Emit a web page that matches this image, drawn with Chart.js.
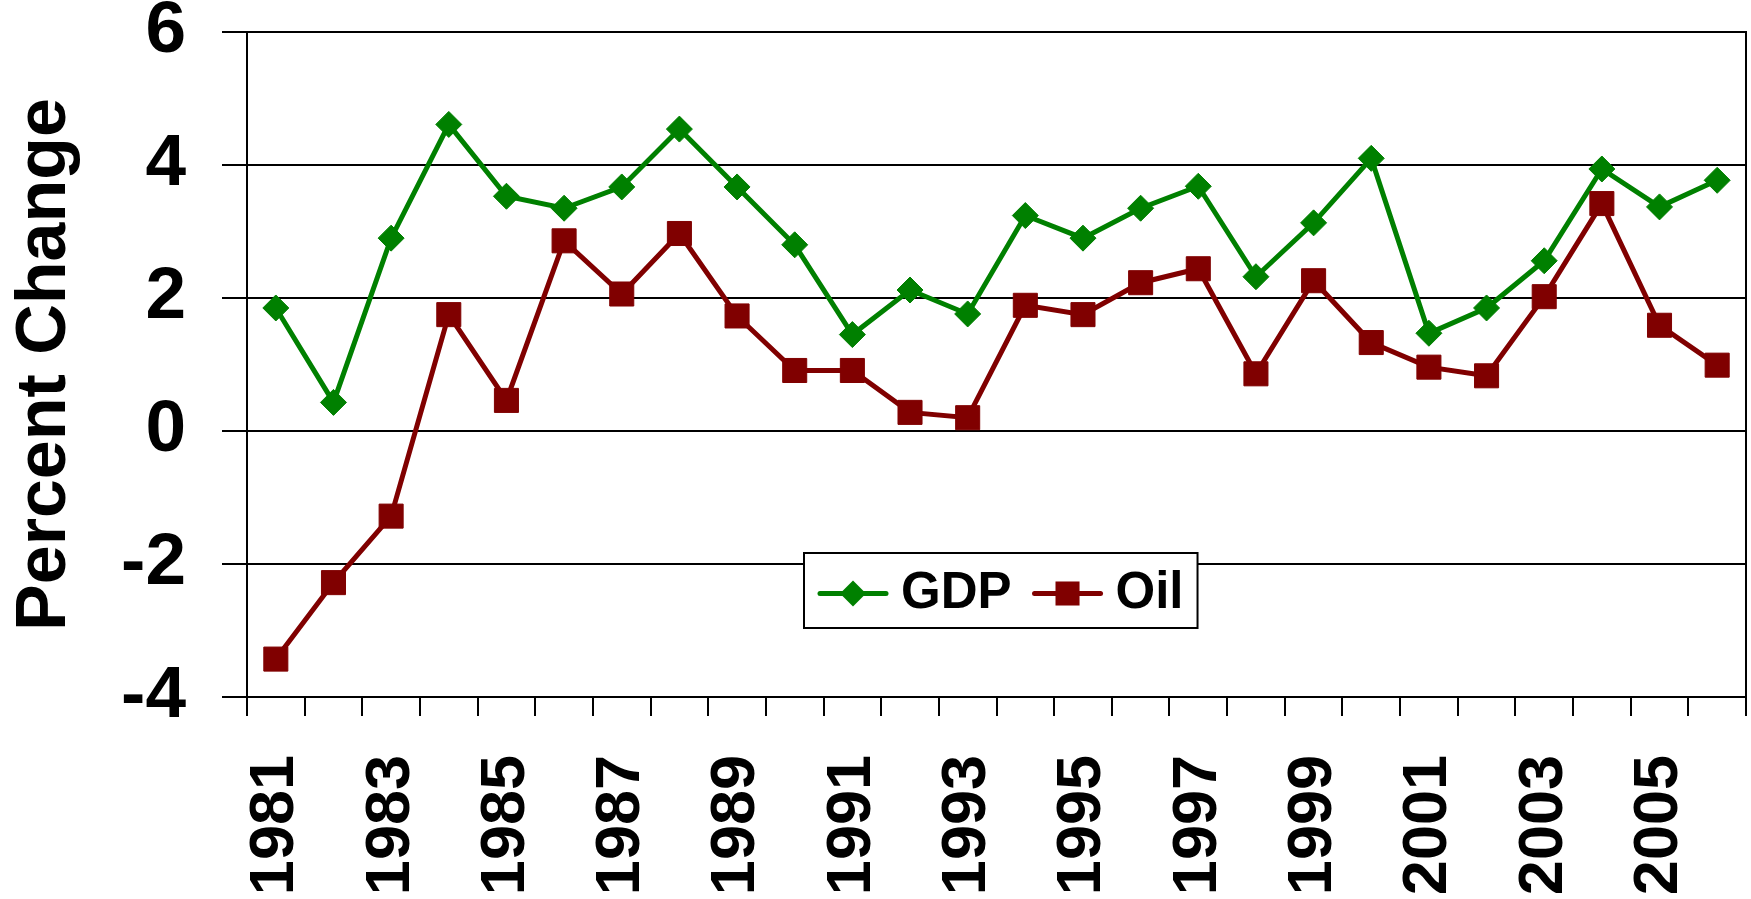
<!DOCTYPE html>
<html>
<head>
<meta charset="utf-8">
<title>GDP and Oil - Percent Change</title>
<script src="https://cdn.jsdelivr.net/npm/chart.js@4.4.1/dist/chart.umd.min.js"></script>
<style>
  html, body { margin: 0; padding: 0; background: #ffffff; }
  #wrap { width: 1751px; height: 899px; position: relative; }
</style>
</head>
<body>
<div id="wrap"><canvas id="chart"></canvas></div>
<script>
// Data
const years = ['1981', '1982', '1983', '1984', '1985', '1986', '1987', '1988', '1989', '1990',
               '1991', '1992', '1993', '1994', '1995', '1996', '1997', '1998', '1999', '2000',
               '2001', '2002', '2003', '2004', '2005', '2006'];
const gdpValues = [1.85, 0.43, 2.90, 4.61, 3.53, 3.35, 3.67, 4.54, 3.67, 2.80,
                   1.45, 2.12, 1.76, 3.24, 2.90, 3.35, 3.68, 2.32, 3.13, 4.10,
                   1.47, 1.85, 2.56, 3.94, 3.37, 3.77];
const oilValues = [-3.43, -2.28, -1.28, 1.75, 0.46, 2.86, 2.06, 2.97, 1.73, 0.91,
                   0.91, 0.28, 0.20, 1.89, 1.75, 2.23, 2.44, 0.86, 2.26, 1.33,
                   0.96, 0.83, 2.02, 3.42, 1.59, 0.99];
const yTickValues = [-4, -2, 0, 2, 4, 6];

const FONT = '"Liberation Sans", Arial, Helvetica, sans-serif';
const GREEN = '#008000';
const MAROON = '#800000';

// Legend box drawn inside the plot area (like the original)
const insideLegend = {
    id: 'insideLegend',
    afterDraw(chart) {
        const { ctx, chartArea } = chart;
        const sets = chart.data.datasets;
        const sampleW = 70, textGap = 13, itemGap = 21, pad = 14, boxH = 75;

        ctx.save();
        ctx.font = 'bold 51px ' + FONT;
        const textW = sets.map(ds => ctx.measureText(ds.label).width);
        let boxW = pad * 2;
        sets.forEach((ds, i) => {
            boxW += sampleW + textGap + textW[i] + (i > 0 ? itemGap : 0);
        });

        const cx = chartArea.left + chartArea.width * 0.503;
        const left = Math.round(cx - boxW / 2);
        const top = Math.round(chartArea.top + chartArea.height * 0.783);

        ctx.fillStyle = '#ffffff';
        ctx.fillRect(left, top, boxW, boxH);
        ctx.strokeStyle = '#000000';
        ctx.lineWidth = 2;
        ctx.strokeRect(left, top, boxW, boxH);

        const midY = top + boxH / 2 + 3;
        let x = left + pad;
        sets.forEach((ds, i) => {
            if (i > 0) x += itemGap;
            // line sample
            ctx.strokeStyle = ds.borderColor;
            ctx.lineWidth = 5;
            ctx.lineCap = 'round';
            ctx.beginPath();
            ctx.moveTo(x + 2, midY);
            ctx.lineTo(x + sampleW - 2, midY);
            ctx.stroke();
            // marker
            const mx = x + sampleW / 2;
            ctx.fillStyle = ds.pointBackgroundColor;
            ctx.beginPath();
            if (ds.pointStyle === 'rectRot') {
                const r = ds.pointRadius;
                ctx.moveTo(mx - r, midY);
                ctx.lineTo(mx, midY - r);
                ctx.lineTo(mx + r, midY);
                ctx.lineTo(mx, midY + r);
                ctx.closePath();
            } else {
                const s = ds.pointRadius * Math.SQRT1_2;
                ctx.rect(mx - s, midY - s, s * 2, s * 2);
            }
            ctx.fill();
            // text
            ctx.fillStyle = '#000000';
            ctx.textAlign = 'left';
            ctx.textBaseline = 'middle';
            ctx.fillText(ds.label, x + sampleW + textGap, midY);
            x += sampleW + textGap + textW[i];
        });
        ctx.restore();
    }
};

const ctx = document.getElementById('chart').getContext('2d');
new Chart(ctx, {
    type: 'line',
    data: {
        labels: years,
        datasets: [{
            label: 'GDP',
            data: gdpValues,
            borderColor: GREEN,
            backgroundColor: GREEN,
            pointBackgroundColor: GREEN,
            pointBorderColor: GREEN,
            pointStyle: 'rectRot',
            pointRadius: 13,
            pointBorderWidth: 1,
            borderWidth: 5,
            tension: 0,
            order: 2
        }, {
            label: 'Oil',
            data: oilValues,
            borderColor: MAROON,
            backgroundColor: MAROON,
            pointBackgroundColor: MAROON,
            pointBorderColor: MAROON,
            pointStyle: 'rect',
            pointRadius: 17,
            pointBorderWidth: 1,
            borderWidth: 5,
            tension: 0,
            order: 1
        }]
    },
    options: {
        responsive: true,
        maintainAspectRatio: false,
        animation: false,
        layout: {
            autoPadding: false,
            padding: { left: 0, right: 5, top: 32, bottom: 0 }
        },
        plugins: {
            legend: { display: false },
            tooltip: { enabled: false }
        },
        scales: {
            x: {
                type: 'category',
                offset: true,
                grid: {
                    offset: true,
                    drawOnChartArea: false,
                    drawTicks: true,
                    tickLength: 19,
                    color: '#000000',
                    lineWidth: 2
                },
                border: { display: true, color: '#000000', width: 2 },
                ticks: {
                    autoSkip: false,
                    minRotation: 90,
                    maxRotation: 90,
                    padding: 39,
                    color: '#000000',
                    font: { family: FONT, size: 63, weight: 'bold', lineHeight: 1 },
                    callback: function(value, index) {
                        return index % 2 === 0 ? years[index] : '';
                    }
                },
                afterFit: function(scale) {
                    // keep the plot wide like the original
                    scale.height = 202;
                    scale.paddingLeft = 0;
                    scale.paddingRight = 0;
                }
            },
            y: {
                min: -4,
                max: 6,
                afterBuildTicks: function(scale) {
                    scale.ticks = yTickValues.map(v => ({ value: v }));
                },
                grid: {
                    color: '#000000',
                    lineWidth: 2,
                    drawTicks: true,
                    tickLength: 25
                },
                border: { display: true, color: '#000000', width: 2 },
                ticks: {
                    padding: 36,
                    color: '#000000',
                    font: { family: FONT, size: 73, weight: 'bold', lineHeight: 1 }
                },
                title: {
                    display: true,
                    text: 'Percent Change',
                    color: '#000000',
                    padding: { top: 4, bottom: 0 },
                    font: { family: FONT, size: 70, weight: 'bold', lineHeight: 1.2 }
                },
                afterFit: function(scale) {
                    scale.width = 247;
                    scale.paddingTop = 0;
                    scale.paddingBottom = 0;
                }
            },
            yRight: {
                position: 'right',
                display: true,
                grid: { display: false, drawTicks: false },
                ticks: { display: false },
                border: { display: true, color: '#000000', width: 2 },
                afterFit: function(scale) {
                    scale.width = 0;
                }
            }
        }
    },
    plugins: [insideLegend]
});
</script>
</body>
</html>
